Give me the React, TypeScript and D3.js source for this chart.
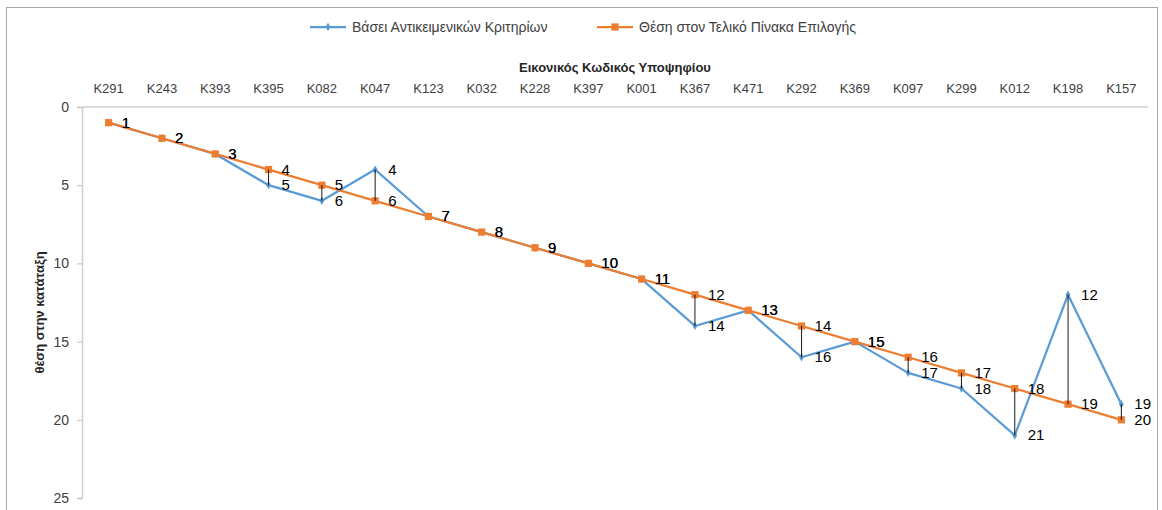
import { useEffect, useRef } from "react";
import * as d3 from "d3";

const CODES = [
  "K291", "K243", "K393", "K395", "K082", "K047", "K123", "K032", "K228", "K397",
  "K001", "K367", "K471", "K292", "K369", "K097", "K299", "K012", "K198", "K157",
];
// Βάσει Αντικειμενικών Κριτηρίων
const OBJECTIVE = [1, 2, 3, 5, 6, 4, 7, 8, 9, 10, 11, 14, 13, 16, 15, 17, 18, 21, 12, 19];
// Θέση στον Τελικό Πίνακα Επιλογής
const FINAL = [1, 2, 3, 4, 5, 6, 7, 8, 9, 10, 11, 12, 13, 14, 15, 16, 17, 18, 19, 20];
const Y_TICKS = [0, 5, 10, 15, 20, 25];

const SERIES = [
  { name: "Βάσει Αντικειμενικών Κριτηρίων", values: OBJECTIVE, color: "#5B9BD5", marker: "diamond" },
  { name: "Θέση στον Τελικό Πίνακα Επιλογής", values: FINAL, color: "#ED7D31", marker: "square" },
];

const W = 1162;
const H = 510;
const MARGIN = { top: 107, right: 14, bottom: 12, left: 82 };
const FONT = "'Liberation Sans', Arial, sans-serif";
const TEXT = "#404040";

export default function App() {
  const svgRef = useRef<SVGSVGElement>(null);

  useEffect(() => {
    if (!svgRef.current) return;
    const svg = d3.select(svgRef.current);
    svg.selectAll("*").remove();

    // chart frame
    svg.append("rect")
      .attr("x", 6.5).attr("y", 7.5)
      .attr("width", 1151).attr("height", 520)
      .attr("fill", "white")
      .attr("stroke", "#a6a6a6");

    const width = W - MARGIN.left - MARGIN.right;
    const x = d3.scaleBand<string>().domain(CODES).range([MARGIN.left, MARGIN.left + width]);
    const cx = (c: string) => (x(c) ?? 0) + x.bandwidth() / 2;
    const y = d3.scaleLinear().domain([0, 25]).range([MARGIN.top, 498]);

    // axes
    svg.append("line")
      .attr("x1", MARGIN.left).attr("x2", MARGIN.left + width)
      .attr("y1", y(0)).attr("y2", y(0))
      .attr("stroke", "#d0d0d0").attr("stroke-width", 1.5);

    const yAxis = svg.append("g")
      .attr("transform", `translate(${MARGIN.left},0)`)
      .call(d3.axisLeft(y).tickValues(Y_TICKS).tickSize(5).tickPadding(8));
    yAxis.selectAll(".domain").attr("stroke", "#d0d0d0").attr("stroke-width", 1.5);
    yAxis.selectAll(".tick line").attr("stroke", "#bfbfbf");
    yAxis.selectAll("text")
      .attr("fill", TEXT)
      .attr("font-family", FONT)
      .attr("font-size", "14px");

    // category labels on top
    svg.append("g").selectAll("text")
      .data(CODES)
      .join("text")
      .attr("x", (d) => cx(d))
      .attr("y", 93)
      .attr("text-anchor", "middle")
      .attr("fill", TEXT)
      .attr("font-family", FONT)
      .attr("font-size", "13px")
      .text((d) => d);

    svg.append("text")
      .attr("x", (MARGIN.left + MARGIN.left + width) / 2)
      .attr("y", 72)
      .attr("text-anchor", "middle")
      .attr("fill", "#262626")
      .attr("font-family", FONT)
      .attr("font-weight", "bold")
      .attr("font-size", "13px")
      .text("Εικονικός Κωδικός Υποψηφίου");

    svg.append("text")
      .attr("transform", `translate(44,${(y(0) + y(25)) / 2 + 10}) rotate(-90)`)
      .attr("text-anchor", "middle")
      .attr("fill", "#262626")
      .attr("font-family", FONT)
      .attr("font-weight", "bold")
      .attr("font-size", "13px")
      .text("θέση στην κατάταξη");

    const line = d3.line<number>()
      .x((_, i) => cx(CODES[i]))
      .y((d) => y(d));

    const diamond = d3.symbol(d3.symbolDiamond, 20);
    const square = d3.symbol(d3.symbolSquare, 52);

    // series drawn in order: line, markers, so orange sits on top of blue
    SERIES.forEach((s) => {
      svg.append("path")
        .datum(s.values)
        .attr("fill", "none")
        .attr("stroke", s.color)
        .attr("stroke-width", 2.25)
        .attr("stroke-linejoin", "round")
        .attr("d", line);

      svg.append("g").selectAll("path")
        .data(s.values)
        .join("path")
        .attr("transform", (d, i) => `translate(${cx(CODES[i])},${y(d)})`)
        .attr("d", s.marker === "diamond" ? diamond() : square())
        .attr("fill", s.color);
    });

    // drop lines
    svg.append("g").selectAll("line")
      .data(CODES.map((c, i) => ({ c, a: OBJECTIVE[i], b: FINAL[i] })).filter((d) => d.a !== d.b))
      .join("line")
      .attr("x1", (d) => cx(d.c)).attr("x2", (d) => cx(d.c))
      .attr("y1", (d) => y(d.a)).attr("y2", (d) => y(d.b))
      .attr("stroke", "#000").attr("stroke-width", 0.9);

    // data labels
    SERIES.forEach((s) => {
      svg.append("g").selectAll("text")
        .data(s.values)
        .join("text")
        .attr("x", (_, i) => cx(CODES[i]) + 13)
        .attr("y", (d) => y(d) + 5)
        .attr("fill", "#000")
        .attr("font-family", FONT)
        .attr("font-size", "15px")
        .text((d) => d);
    });

    // legend
    const legendPos = [310, 597];
    SERIES.forEach((s, i) => {
      const lx = legendPos[i];
      const g = svg.append("g").attr("transform", `translate(${lx},27)`);
      g.append("line")
        .attr("x1", 0).attr("x2", 36)
        .attr("stroke", s.color).attr("stroke-width", 2.25);
      g.append("path")
        .attr("transform", "translate(18,0)")
        .attr("d", s.marker === "diamond" ? diamond() : square())
        .attr("fill", s.color);
      g.append("text")
        .attr("x", 42).attr("y", 5)
        .attr("fill", TEXT)
        .attr("font-family", FONT)
        .attr("font-size", "14px")
        .text(s.name);
    });
  }, []);

  return (
    <>
      <style>{"body{margin:0}"}</style>
      <svg ref={svgRef} width={W} height={H} style={{ display: "block" }} />
    </>
  );
}
